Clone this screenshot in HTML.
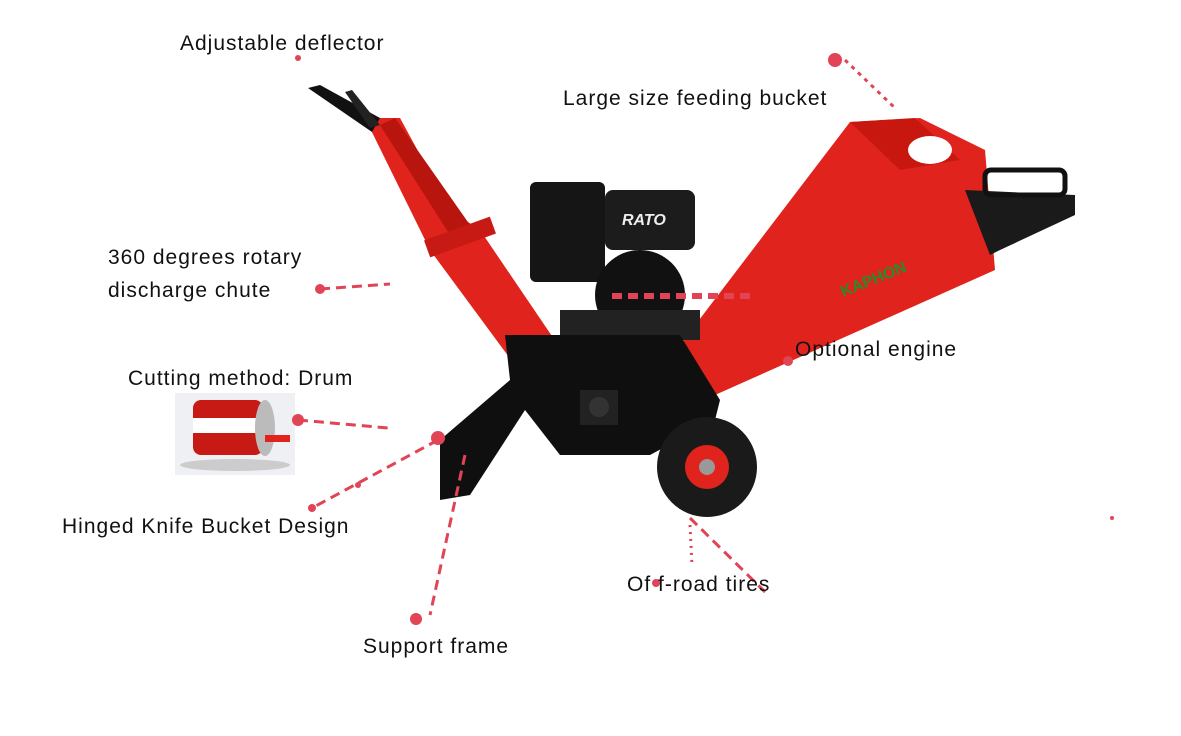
<!DOCTYPE html>
<html><head><meta charset="utf-8"><style>
body{margin:0;background:#fff;width:1181px;height:731px;overflow:hidden}
svg text{font-family:"Liberation Sans",Arial,sans-serif;font-size:21px;letter-spacing:1px;fill:#111}
</style></head><body>
<svg width="1181" height="731" viewBox="0 0 1181 731" xmlns="http://www.w3.org/2000/svg">
<!-- chute -->
<polygon points="365,118 400,118 450,210 480,230 558,345 520,372 430,250" fill="#e0231c"/>
<polygon points="380,125 395,118 470,225 450,235" fill="#b8150f"/>
<rect x="425" y="228" width="70" height="18" fill="#c81a14" transform="rotate(-20 460 237)"/>
<polygon points="308,88 320,85 380,118 372,132" fill="#111"/>
<polygon points="345,92 352,90 380,125 370,128" fill="#222"/>
<!-- hopper -->
<polygon points="680,345 850,122 920,118 985,150 995,270 715,395" fill="#e0231c"/>
<polygon points="850,122 915,118 960,160 900,170" fill="#c8170f"/>
<ellipse cx="930" cy="150" rx="22" ry="14" fill="#fff"/>
<polygon points="965,190 1075,195 1075,215 1000,250 990,255" fill="#1a1a1a"/>
<rect x="985" y="170" width="80" height="25" rx="6" fill="none" stroke="#111" stroke-width="5"/>
<text x="835" y="285" style="font-size:16px;letter-spacing:0;fill:#2a8a2a;font-weight:bold" transform="rotate(-22 870 270)">KAPHON</text>
<!-- engine -->
<rect x="530" y="182" width="75" height="100" rx="6" fill="#151515"/>
<rect x="605" y="190" width="90" height="60" rx="8" fill="#1c1c1c"/>
<text x="622" y="225" style="font-size:16px;letter-spacing:0;fill:#eee;font-weight:bold;font-style:italic">RATO</text>
<circle cx="640" cy="295" r="45" fill="#111"/>
<rect x="560" y="310" width="140" height="30" fill="#222"/>
<!-- body -->
<polygon points="505,335 680,335 720,400 715,420 650,455 560,455 525,410 470,495 440,500 440,440 510,380" fill="#0f0f0f"/>
<rect x="580" y="390" width="38" height="35" fill="#222"/>
<circle cx="599" cy="407" r="10" fill="#333"/>
<!-- wheel -->
<circle cx="707" cy="467" r="50" fill="#1a1a1a"/>
<circle cx="707" cy="467" r="22" fill="#e0231c"/>
<circle cx="707" cy="467" r="8" fill="#999"/>
<!-- drum image -->
<rect x="175" y="393" width="120" height="82" fill="#eef0f3"/>
<ellipse cx="235" cy="465" rx="55" ry="6" fill="#ccc"/>
<rect x="193" y="400" width="70" height="55" rx="8" fill="#c81a14"/>
<rect x="193" y="418" width="70" height="15" fill="#fff"/>
<ellipse cx="265" cy="428" rx="10" ry="28" fill="#bbb"/>
<rect x="265" y="435" width="25" height="7" fill="#e0231c"/>
<!-- dashed connectors -->
<g stroke="#e04455" stroke-width="3" stroke-dasharray="10,6" fill="none">
<line x1="320" y1="289" x2="390" y2="284"/>
<line x1="298" y1="420" x2="388" y2="428"/>
<line x1="438" y1="440" x2="312" y2="508"/>
<line x1="465" y1="455" x2="430" y2="615"/>
<line x1="612" y1="296" x2="750" y2="296" stroke-width="6"/>
<line x1="690" y1="518" x2="765" y2="592"/>
<line x1="690" y1="525" x2="692" y2="565" stroke-dasharray="2,5"/>
<line x1="845" y1="60" x2="895" y2="108" stroke-dasharray="4,5"/>
</g>
<g fill="#e04455">
<circle cx="298" cy="58" r="3"/><circle cx="320" cy="289" r="5"/><circle cx="298" cy="420" r="6"/>
<circle cx="438" cy="438" r="7"/><circle cx="312" cy="508" r="4"/><circle cx="358" cy="485" r="3"/>
<circle cx="416" cy="619" r="6"/><circle cx="656" cy="583" r="4"/><circle cx="788" cy="361" r="5"/>
<circle cx="835" cy="60" r="7"/><circle cx="1112" cy="518" r="2"/>
</g>
<text x="180" y="50">Adjustable deflector</text>
<text x="563" y="105">Large size feeding bucket</text>
<text x="108" y="264">360 degrees rotary</text>
<text x="108" y="297">discharge chute</text>
<text x="795" y="356">Optional engine</text>
<text x="128" y="385">Cutting method: Drum</text>
<text x="62" y="533">Hinged Knife Bucket Design</text>
<text x="627" y="591">Of f-road tires</text>
<text x="363" y="653">Support frame</text>
</svg>
</body></html>
